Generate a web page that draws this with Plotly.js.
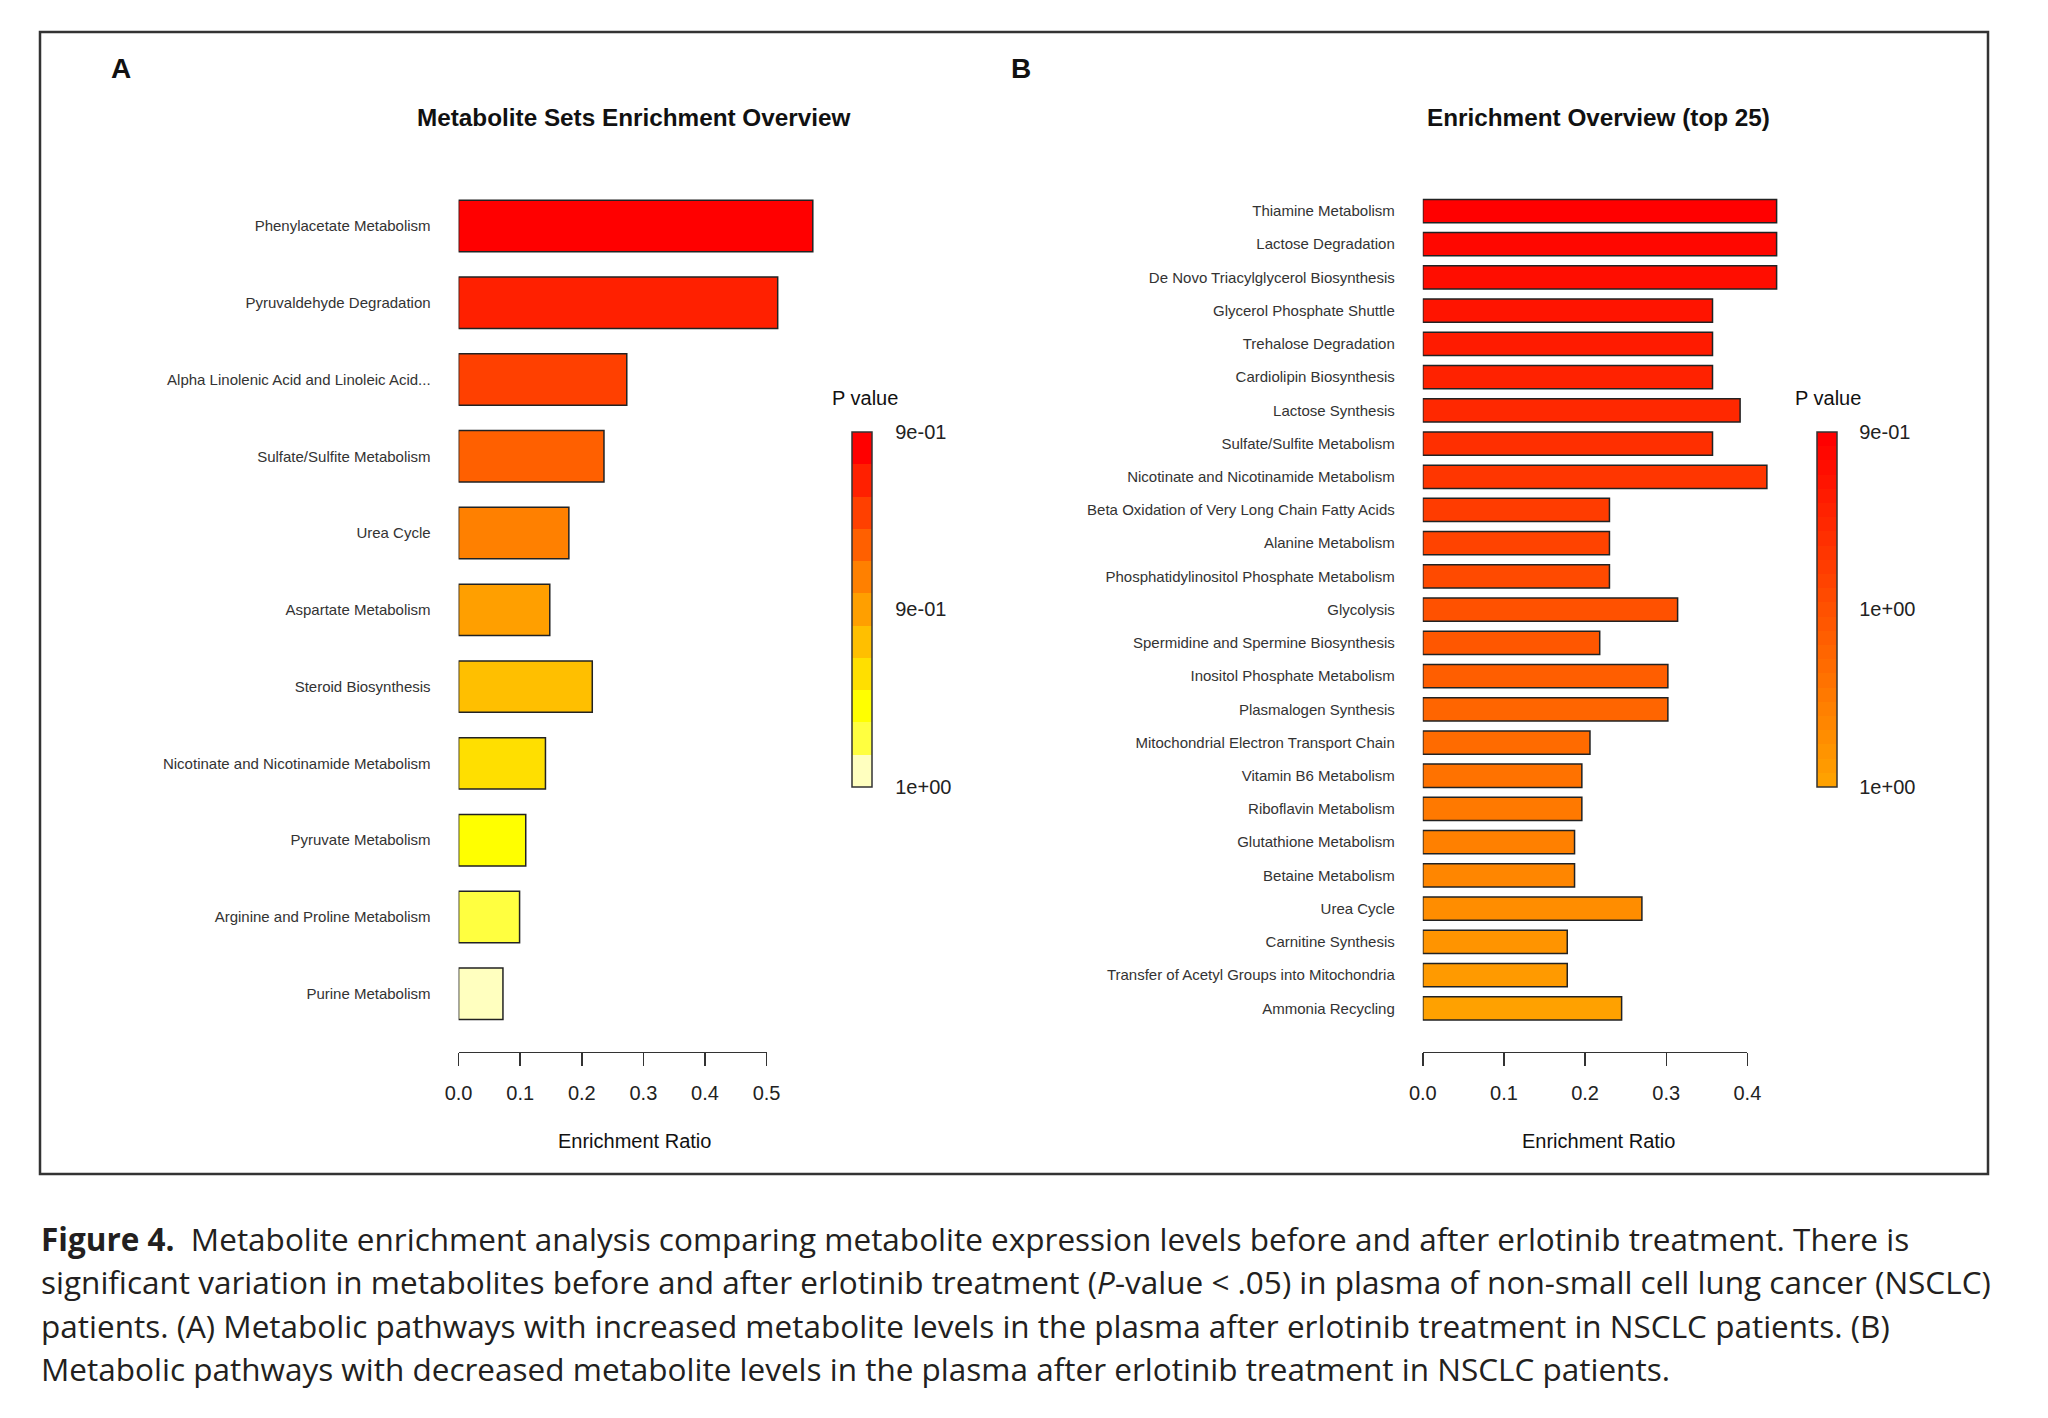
<!DOCTYPE html>
<html>
<head>
<meta charset="utf-8">
<script src="https://cdn.plot.ly/plotly-3.0.1.min.js"></script>
<style>html,body{margin:0;padding:0;background:#fff;}#chart{width:2048px;height:1418px;}</style>
</head>
<body>
<div id="chart"></div>
<script>
// ---------------- DATA ----------------
const catsA = ['Phenylacetate Metabolism', 'Pyruvaldehyde Degradation', 'Alpha Linolenic Acid and Linoleic Acid...',
  'Sulfate/Sulfite Metabolism', 'Urea Cycle', 'Aspartate Metabolism', 'Steroid Biosynthesis',
  'Nicotinate and Nicotinamide Metabolism', 'Pyruvate Metabolism', 'Arginine and Proline Metabolism', 'Purine Metabolism'];
const ratioA = [0.575, 0.518, 0.273, 0.236, 0.179, 0.148, 0.217, 0.141, 0.109, 0.099, 0.072];
const pRankA = [1, 2, 3, 4, 5, 6, 7, 8, 9, 10, 11];
const pTicksA = ['9e-01', '9e-01', '1e+00'];   // colour key labels, top -> bottom

const catsB = ['Thiamine Metabolism', 'Lactose Degradation', 'De Novo Triacylglycerol Biosynthesis',
  'Glycerol Phosphate Shuttle', 'Trehalose Degradation', 'Cardiolipin Biosynthesis', 'Lactose Synthesis',
  'Sulfate/Sulfite Metabolism', 'Nicotinate and Nicotinamide Metabolism', 'Beta Oxidation of Very Long Chain Fatty Acids',
  'Alanine Metabolism', 'Phosphatidylinositol Phosphate Metabolism', 'Glycolysis', 'Spermidine and Spermine Biosynthesis',
  'Inositol Phosphate Metabolism', 'Plasmalogen Synthesis', 'Mitochondrial Electron Transport Chain',
  'Vitamin B6 Metabolism', 'Riboflavin Metabolism', 'Glutathione Metabolism', 'Betaine Metabolism', 'Urea Cycle',
  'Carnitine Synthesis', 'Transfer of Acetyl Groups into Mitochondria', 'Ammonia Recycling'];
const ratioB = [0.436, 0.436, 0.436, 0.357, 0.357, 0.357, 0.391, 0.357, 0.424, 0.230, 0.230, 0.230, 0.314,
  0.218, 0.302, 0.302, 0.206, 0.196, 0.196, 0.187, 0.187, 0.270, 0.178, 0.178, 0.245];
const pRankB = [1, 2, 3, 4, 5, 6, 7, 8, 9, 10, 11, 12, 13, 14, 15, 16, 17, 18, 19, 20, 21, 22, 23, 24, 25];
const pTicksB = ['9e-01', '1e+00', '1e+00'];

const ticksAxisA = [0, 0.1, 0.2, 0.3, 0.4, 0.5];
const ticksAxisB = [0, 0.1, 0.2, 0.3, 0.4];

// ---------------- STYLE ----------------
const W = 2048, H = 1418;
const px = x => x / W;
const py = y => 1 - y / H;
const FONT = 'Liberation Sans, Arial, Helvetica, sans-serif';
const INK = '#222';

// R's heat.colors(n)
function heatColors(n) {
  const k = Math.floor(n / 4), j = n - k, out = [];
  const hex = v => ('0' + Math.round(v).toString(16)).slice(-2).toUpperCase();
  for (let i = 0; i < j; i++) {
    const h = j > 1 ? i / (j - 1) / 6 : 0;
    out.push('#FF' + hex(h * 6 * 255) + '00');
  }
  for (let i = 0; i < k; i++) {
    const s = k > 1 ? (1 - 1 / (2 * k)) - i * ((1 - 1 / k) / (k - 1)) : 0.5;
    out.push('#FFFF' + hex(255 * (1 - s)));
  }
  return out;
}
const palA = heatColors(11);
const palB = heatColors(52).slice(0, 25);

// stepped colourscale: value v = n+1-rank  (rank 1 -> top of key)
function steppedScale(pal) {
  const n = pal.length, cs = [];
  for (let k = 0; k < n; k++) {
    const c = pal[n - 1 - k];
    cs.push([k / n, c]);
    cs.push([(k + 1) / n, c]);
  }
  return cs;
}
const valA = pRankA.map(r => pRankA.length + 1 - r);
const valB = pRankB.map(r => pRankB.length + 1 - r);

function colorbar(xLeft, n, labels, tl) {
  return {
    x: px(xLeft), xanchor: 'left', y: py(431.5), yanchor: 'top',
    len: 355, lenmode: 'pixels', thickness: 20, thicknessmode: 'pixels',
    xpad: 0, ypad: 0, outlinewidth: 1.5, outlinecolor: '#333', borderwidth: 0,
    tickmode: 'array', tickvals: [0.5, (n + 1) / 2, n + 0.5], ticktext: labels.slice().reverse(),
    ticks: 'outside', ticklen: tl, tickcolor: 'rgba(0,0,0,0)',
    tickfont: { family: FONT, size: 20, color: INK }
  };
}

const traces = [
  {
    type: 'bar', orientation: 'h', x: ratioA, y: catsA, xaxis: 'x', yaxis: 'y', width: 0.67,
    marker: { color: valA, colorscale: steppedScale(palA), cmin: 0.5, cmax: pRankA.length + 0.5,
      line: { color: '#222', width: 1.5 }, showscale: true, colorbar: colorbar(851.5, pRankA.length, pTicksA, 19) },
    hoverinfo: 'x+y', showlegend: false
  },
  {
    type: 'bar', orientation: 'h', x: ratioB, y: catsB, xaxis: 'x2', yaxis: 'y2', width: 0.70,
    marker: { color: valB, colorscale: steppedScale(palB), cmin: 0.5, cmax: pRankB.length + 0.5,
      line: { color: '#222', width: 1.5 }, showscale: true, colorbar: colorbar(1816.5, pRankB.length, pTicksB, 18) },
    hoverinfo: 'x+y', showlegend: false
  },
  { type: 'scatter', x: [], y: [], xaxis: 'x3', yaxis: 'y', hoverinfo: 'skip', showlegend: false },
  { type: 'scatter', x: [], y: [], xaxis: 'x4', yaxis: 'y2', hoverinfo: 'skip', showlegend: false }
];

const catAxis = (domTop, domBot, n, anchor) => ({
  domain: [py(domBot), py(domTop)], type: 'category', range: [n - 0.5, -0.5], anchor: anchor,
  showgrid: false, zeroline: false, showline: false, ticks: '', ticklabelstandoff: 27,
  tickfont: { family: FONT, size: 15, color: '#333' }, fixedrange: true
});
const hiddenX = (x0, pxPerUnit, maxV, anchor) => ({
  domain: [px(x0), px(x0 + pxPerUnit * maxV)], range: [0, maxV], visible: false, anchor: anchor, fixedrange: true
});
const shownX = (x0, x1, maxV, tv) => ({
  domain: [px(x0), px(x1)], range: [0, maxV], anchor: 'free', position: py(1051.7),
  showline: true, linecolor: '#333', linewidth: 1.5, ticks: 'outside', ticklen: 13, tickwidth: 1.5, tickcolor: '#333',
  tickmode: 'array', tickvals: tv, ticktext: tv.map(v => v.toFixed(1)), ticklabelstandoff: 10,
  tickfont: { family: FONT, size: 20, color: INK }, showgrid: false, zeroline: false, fixedrange: true
});

const ann = (text, x, y, size, opts) => Object.assign({
  text: text, x: px(x), y: py(y), xref: 'paper', yref: 'paper', showarrow: false,
  xanchor: 'center', yanchor: 'middle', font: { family: FONT, size: size, color: '#111' }
}, opts || {});

const CAP = { family: '"Open Sans", Lato, sans-serif', size: 31.5, color: '#231f20' };
const layout = {
  width: W, height: H, margin: { l: 0, r: 0, t: 0, b: 0 },
  paper_bgcolor: '#ffffff', plot_bgcolor: 'rgba(0,0,0,0)', showlegend: false,
  font: { family: FONT, color: INK },
  xaxis: hiddenX(458.6, 616, 0.6, 'y'),
  yaxis: catAxis(187.6, 1032.1, catsA.length, 'x'),
  xaxis2: hiddenX(1422.8, 811.5, 0.46, 'y2'),
  yaxis2: catAxis(194.4, 1024.9, catsB.length, 'x2'),
  xaxis3: shownX(458.6, 766.6, 0.5, ticksAxisA),
  xaxis4: shownX(1422.8, 1747.4, 0.4, ticksAxisB),
  shapes: [{ type: 'rect', xref: 'paper', yref: 'paper', x0: px(40), x1: px(1988), y0: py(32), y1: py(1174),
    line: { color: '#333', width: 2.5 }, fillcolor: 'rgba(0,0,0,0)' }],
  annotations: [
    ann('<b>A</b>', 121, 68, 28),
    ann('<b>B</b>', 1021, 68, 28),
    ann('<b>Metabolite Sets Enrichment Overview</b>', 634, 118, 24.3),
    ann('<b>Enrichment Overview (top 25)</b>', 1598, 118, 24.3),
    ann('P value', 830, 398, 20, { xanchor: 'left' }),
    ann('P value', 1793, 398, 20, { xanchor: 'left' }),
    ann('Enrichment Ratio', 634, 1141, 20),
    ann('Enrichment Ratio', 1598, 1141, 20),
    ann('<b>Figure 4.</b>  Metabolite enrichment analysis comparing metabolite expression levels before and after erlotinib treatment. There is',
      39, 1238, 28, { xanchor: 'left', font: CAP }),
    ann('significant variation in metabolites before and after erlotinib treatment (<i>P</i>-value &lt; .05) in plasma of non-small cell lung cancer (NSCLC)',
      39, 1281, 28, { xanchor: 'left', font: CAP }),
    ann('patients. (A) Metabolic pathways with increased metabolite levels in the plasma after erlotinib treatment in NSCLC patients. (B)',
      39, 1325, 28, { xanchor: 'left', font: CAP }),
    ann('Metabolic pathways with decreased metabolite levels in the plasma after erlotinib treatment in NSCLC patients.',
      39, 1368, 28, { xanchor: 'left', font: CAP })
  ]
};

Plotly.newPlot('chart', traces, layout, { staticPlot: true, displayModeBar: false });
</script>
</body>
</html>
